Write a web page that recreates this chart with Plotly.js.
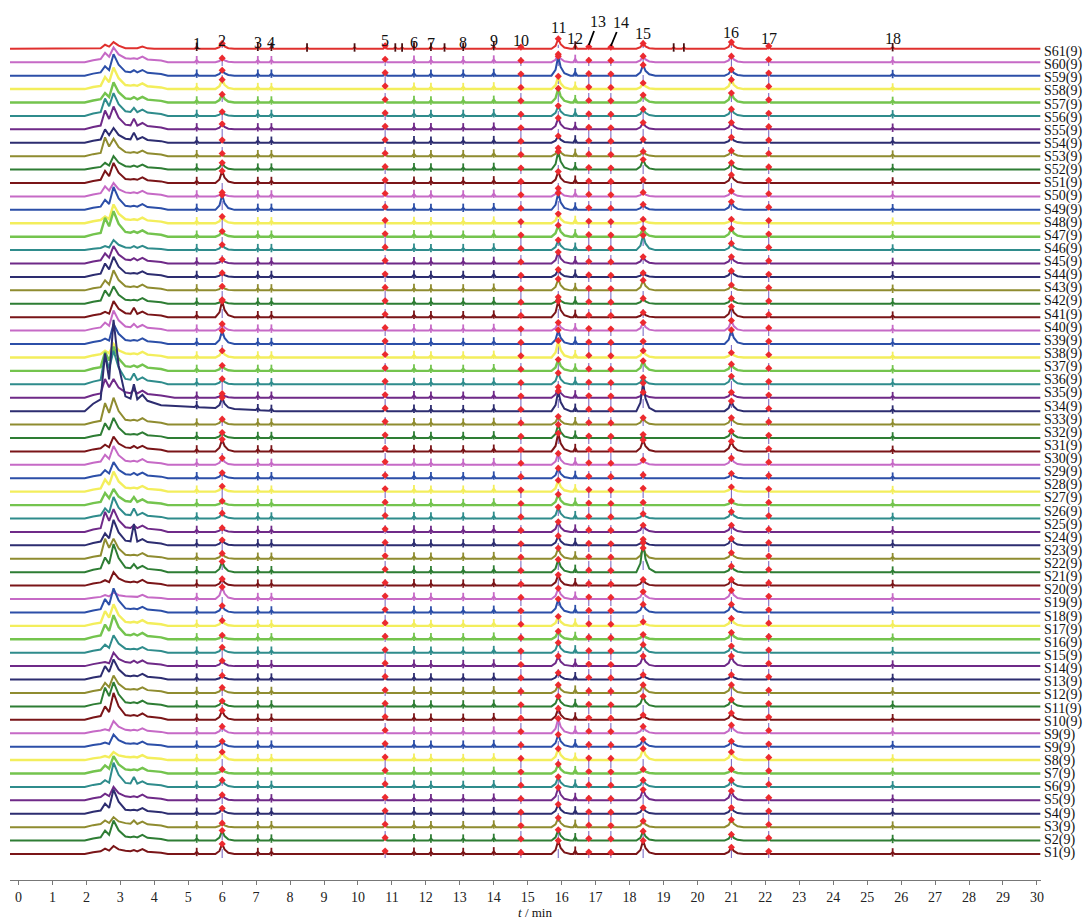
<!DOCTYPE html>
<html><head><meta charset="utf-8">
<script src="https://cdn.plot.ly/plotly-3.0.1.min.js"></script>
<style>html,body{margin:0;padding:0;background:#fff}#chart{width:1087px;height:920px}</style>
</head><body><div id="chart"></div>
<script>
// ---------- DATA ----------
const SAMPLE_LABELS = ["S61(9)","S60(9)","S59(9)","S58(9)","S57(9)","S56(9)","S55(9)","S54(9)","S53(9)","S52(9)",
"S51(9)","S50(9)","S49(9)","S48(9)","S47(9)","S46(9)","S45(9)","S44(9)","S43(9)","S42(9)",
"S41(9)","S40(9)","S39(9)","S38(9)","S37(9)","S36(9)","S35(9)","S34(9)","S33(9)","S32(9)",
"S31(9)","S30(9)","S29(9)","S28(9)","S27(9)","S26(9)","S25(9)","S24(9)","S23(9)","S22(9)",
"S21(9)","S20(9)","S19(9)","S18(9)","S17(9)","S16(9)","S15(9)","S14(9)","S13(9)","S12(9)",
"S11(9)","S10(9)","S9(9)","S9(9)","S8(9)","S7(9)","S6(9)","S5(9)","S4(9)","S3(9)","S2(9)","S1(9)"];

const PEAK_NUMBERS = ["1","2","3","4","5","6","7","8","9","10","11","12","13","14","15","16","17","18"];
const PEAK_TIMES   = [5.25, 6.0, 7.05, 7.45, 10.8, 11.65, 12.15, 13.1, 14.0, 14.8, 15.9, 16.4, 16.8, 17.45, 18.4, 21.0, 22.1, 25.75];
const RED_MARKED   = ["2","5","10","11","13","14","15","16","17"];
const SMALL_PEAK_H = [0.15, 0, 0.15, 0.15, 0.22, 0.18, 0.15, 0.15, 0.2, 0.12, 0, 0.25, 0.15, 0.12, 0, 0, 0.2, 0.12];

// early cluster retention times (min)
const T_A = 2.55, T_B = 2.8, T_C = 3.4;

// per-chromatogram values, index 0 = bottom trace ... 60 = top (reference) trace
const hA = [0.4,0.75,0.5,0.75,0.5,0.5,0.6,0.3,0.3,0.3, 1.0,1.4,0.75,1.0,0.3,0.6,1.1,1.1,1.0,0.3,
            0.4,1.1,1.5,0.9,1.5,0.75,0.9,0.9,0.6,0.75, 0.5,1.1,1.6,4.3,1.4,2.2,1.4,0.5,0.4,0.6,
            0.4,1.0,0.75,1.0,0.75,0.3,1.4,0.5,0.75,0.75, 0.9,0.5,1.4,1.0,1.4,1.3,0.7,0.9,0.7,0.7, 0.3];
const hB = [0.6,1.5,0.75,1.8,1.0,1.8,1.3,0.6,0.9,0.9, 2.0,1.8,1.3,1.5,1.0,1.3,1.8,1.6,1.8,0.5,
            1.0,2.1,1.5,1.9,1.7,1.6,1.2,1.5,1.2,1.4, 1.1,1.5,2.0,6.8,1.4,2.5,1.8,1.0,1.5,1.5,
            1.2,1.3,1.5,1.5,1.3,0.75,1.9,1.4,1.7,1.0, 1.5,1.0,1.3,1.1,1.7,1.7,1.5,1.6,1.6,1.1, 0.5];
const hC = [0.3,0.3,0.5,0.3,0.3,0.75,0.3,0.2,0.2,0.2, 0.3,0.3,0.3,0.3,0.4,0.3,0.4,0.3,0.3,0.2,
            0.3,0.6,0.3,1.6,0.5,0.75,0.6,0.3,0.4,0.3, 0.4,0.3,0.3,2.0,0.6,0.8,0.4,0.3,0.3,0.5,
            0.7,0.3,0.3,0.3,0.4,0.3,0.4,0.3,0.3,0.3, 0.3,0.3,0.3,0.75,0.8,0.6,0.4,0.3,0.4,0.3, 0.0];
const hump = [0.25,0.3,0.3,0.3,0.3,0.3,0.3,0.25,0.25,0.25, 0.35,0.3,0.3,0.3,0.3,0.3,0.35,0.3,0.3,0.2,
              0.3,0.35,0.3,0.35,0.35,0.3,0.3,0.3,0.3,0.3, 0.3,0.3,0.35,1.1,0.4,0.4,0.35,0.3,0.3,0.3,
              0.3,0.3,0.3,0.3,0.3,0.2,0.35,0.3,0.3,0.3, 0.3,0.25,0.3,0.3,0.35,0.35,0.3,0.3,0.3,0.3, 0.05];
const humpEnd = [4.4,4.4,4.4,4.4,4.4,4.4,4.4,4.4,4.4,4.4, 4.4,4.4,4.4,4.4,4.4,4.4,4.4,4.4,4.4,4.4,
                 4.4,4.4,4.4,4.4,4.4,4.4,4.4,4.4,4.4,4.4, 4.4,4.4,4.4,7.6,4.6,4.4,4.4,4.4,4.4,4.4,
                 4.4,4.4,4.4,4.4,4.4,4.4,4.4,4.4,4.4,4.4, 4.4,4.4,4.4,4.4,4.4,4.4,4.4,4.4,4.4,4.4, 4.0];
const h2  = [0.75,0.75,0.3,0.4,0.4,0.5,0.3,0.6,0.4,0.5, 0.7,0.4,0.4,0.3,0.4,0.4,0.3,0.4,0.5,0.9,
             0.5,0.8,0.4,0.4,0.3,0.4,0.3,0.4,0.4,0.5, 0.9,0.4,0.4,0.8,0.3,0.4,0.4,0.5,1.0,0.5,
             1.2,0.3,0.3,0.3,0.3,0.4,0.4,0.5,1.1,0.3, 0.9,0.5,0.2,0.2,0.4,0.3,0.6,0.7,0.4,0.3, 0.4];
const h11 = [1.0,0.8,0.7,0.7,0.95,0.75,0.7,0.85,0.9,1.1, 0.85,0.75,0.6,0.5,0.75,0.75,0.6,0.7,1.0,0.8,
             0.8,0.95,0.8,0.7,0.75,0.85,0.8,0.85,0.75,0.85, 1.35,1.0,0.6,1.5,0.8,0.85,0.85,1.25,1.05,0.6,
             1.2,0.5,0.85,0.55,0.85,0.75,0.85,0.7,1.25,0.6, 0.85,1.35,0.6,0.5,0.85,0.75,1.05,0.95,1.45,0.6, 0.75];
const h15 = [1.0,0.7,0.45,0.45,0.8,0.5,0.3,0.85,0.55,0.5, 0.35,0.75,0.6,0.35,0.75,0.6,0.35,0.3,0.6,0.55,
             0.45,2.2,0.8,0.45,0.5,0.35,0.2,0.25,0.25,0.35, 0.85,0.25,0.5,2.1,0.4,0.5,0.75,0.5,0.2,0.6,
             0.35,0.4,0.75,0.3,0.5,1.1,0.6,0.3,0.4,0.3, 0.25,0.75,0.35,0.25,0.5,0.5,0.55,0.45,0.8,0.45, 0.4];
const h16 = [0.5,0.45,0.55,0.45,0.7,0.5,0.3,0.6,0.4,0.6, 0.5,0.5,0.6,0.35,0.75,0.5,0.5,0.55,0.6,0.65,
             0.45,0.45,0.45,0.5,0.5,0.5,0.3,0.35,0.35,0.5, 0.75,0.5,0.5,0.75,0.4,0.6,0.5,0.35,1.05,0.75,
             0.8,0.4,0.4,0.45,0.5,0.5,0.6,0.3,0.6,0.4, 0.6,0.5,0.4,0.4,0.5,0.5,0.7,0.7,0.45,0.45, 0.5];

const TOP_EXTRA_TICKS = [8.5, 9.9, 11.1, 11.3, 12.55, 19.3, 19.6];

const TRACE_COLORS = ["#7a1518","#2e7d34","#8f8c30","#2d2d70","#6f2a88","#2f8c8c","#74c44e","#f3ee5c","#2c4fa8","#c66ac6"];
const TOP_COLOR = "#e0302e";

// ---------- BUILD ----------
const N = hA.length;
const WIDE = {dt:[-0.2,-0.08,0,0.07,0.18,0.36], f:[0,0.3,1,0.45,0.12,0]};
const NARROW = {dt:[-0.06,0,0.06], f:[0,1,0]};

function peakComp(t, h, prof){ return prof.dt.map((d,k)=>[t+d, h*prof.f[k]]); }
function interp(comp, x){
  if (x <= comp[0][0] || x >= comp[comp.length-1][0]) return 0;
  for (let k=0;k<comp.length-1;k++){
    const a=comp[k], b=comp[k+1];
    if (x>=a[0] && x<=b[0]) return b[0]===a[0]?Math.max(a[1],b[1]):a[1]+(b[1]-a[1])*(x-a[0])/(b[0]-a[0]);
  }
  return 0;
}
function peakHeight(i, num){
  if (num==="2") return h2[i];
  if (num==="11") return h11[i];
  if (num==="15") return h15[i];
  if (num==="16") return h16[i];
  return SMALL_PEAK_H[PEAK_NUMBERS.indexOf(num)];
}

const traces = [];
const redX=[], redY=[], minX=[], minY=[], minC=[];
for (let i=N-1;i>=0;i--){
  const hu = hump[i], a = hA[i], b = hB[i], c = hC[i];
  const early = [[1.95,0],[2.2,hu*0.5],[2.42,hu*0.8],[T_A,a],[2.67,0.5*Math.min(a,b)+0.2*hu],[T_B,b],
                 [2.95,0.45*b+0.3*hu],[3.15,hu],[3.3,hu*0.85],[T_C,Math.max(c,hu)],[3.5,hu*0.8],[3.65,hu+0.12],
                 [3.8,hu*0.7],[4.2,hu*0.4],[humpEnd[i],0]];
  const comps=[early];
  PEAK_NUMBERS.forEach((num,k)=>{
    const h = peakHeight(i,num);
    comps.push(peakComp(PEAK_TIMES[k], h, h>=0.3?WIDE:NARROW));
  });
  if (i===N-1) TOP_EXTRA_TICKS.forEach(t=>comps.push(peakComp(t,0.1,NARROW)));
  const xsSet = new Set([-0.25,30.1]);
  comps.forEach(cm=>cm.forEach(p=>xsSet.add(+p[0].toFixed(4))));
  const xs = Array.from(xsSet).sort((u,v)=>u-v);
  const total = x=>comps.reduce((s,cm)=>s+interp(cm,x),0);
  const ys = xs.map(x=>i+total(x));
  const color = i===N-1?TOP_COLOR:TRACE_COLORS[i%10];
  const w = (i%10===6||i%10===7)?2.4:2;
  traces.push({x:xs,y:ys,type:'scatter',mode:'lines',line:{color:color,width:w},hoverinfo:'skip',showlegend:false});
  PEAK_NUMBERS.forEach((num,k)=>{
    const t=PEAK_TIMES[k];
    if (RED_MARKED.includes(num)){ redX.push(t); redY.push(i+total(t)); }
    else { minX.push(t); minY.push(i+total(t)); minC.push(i===N-1?'#4a1010':color); }
  });
  if (i===N-1) TOP_EXTRA_TICKS.forEach(t=>{minX.push(t);minY.push(i+total(t));minC.push('#4a1010');});
}
traces.push({x:minX,y:minY,type:'scatter',mode:'markers',
  marker:{symbol:'line-ns-open',size:6,color:minC,line:{width:1.8,color:minC}},hoverinfo:'skip',showlegend:false});
traces.push({x:redX,y:redY,type:'scatter',mode:'markers',marker:{symbol:'diamond',size:5.5,color:'#ec2a2f'},hoverinfo:'skip',showlegend:false});

// ---------- LAYOUT ----------
const PLOT_TOP=10, PLOT_BOT=880, BASE0=854, STEP=13.42;
const pixToY = p => (BASE0-p)/STEP;

const shapes = RED_MARKED.map(num=>({type:'line',xref:'x',yref:'y',x0:PEAK_TIMES[PEAK_NUMBERS.indexOf(num)],x1:PEAK_TIMES[PEAK_NUMBERS.indexOf(num)],
  y0:-0.3,y1:N-0.7,line:{color:'#6f5fc0',width:1,dash:'dash'},layer:'below'}));

const LABEL_PIX_Y = [43,40,42,42,40,42,43,42,40,40,27,38,45,46,33,32,38,38];
const annotations = [];
PEAK_NUMBERS.forEach((num,k)=>{
  const ann = {x:PEAK_TIMES[k],y:pixToY(LABEL_PIX_Y[k]),xref:'x',yref:'y',text:num,showarrow:false,
    font:{family:'Liberation Serif, Times New Roman, serif',size:16,color:'#111'}};
  if (num==="13"||num==="14"){
    ann.showarrow=true; ann.arrowhead=0; ann.arrowwidth=1.8; ann.arrowcolor='#000';
    ann.ax = num==="13"?9:10; ann.ay=-24; ann.standoff=0;
  }
  annotations.push(ann);
});
SAMPLE_LABELS.forEach((lab,k)=>{
  annotations.push({x:1,xref:'paper',xanchor:'left',xshift:1,y:pixToY(52+k*13.13),yref:'y',yanchor:'middle',text:lab,showarrow:false,
    font:{family:'Liberation Serif, Times New Roman, serif',size:14,color:'#111'}});
});
annotations.push({x:(535-10)/1031,xref:'paper',xanchor:'center',y:(PLOT_BOT-912)/(PLOT_BOT-PLOT_TOP),yref:'paper',yanchor:'middle',
  text:'<i>t</i> / min',showarrow:false,
  font:{family:'Liberation Serif, Times New Roman, serif',size:13,color:'#111'}});

const layout = {
  width:1087,height:920,
  margin:{l:10,r:46,t:PLOT_TOP,b:920-PLOT_BOT,pad:0},
  paper_bgcolor:'#fff',plot_bgcolor:'#fff',
  showlegend:false,
  xaxis:{range:[-0.25,30.12],tickmode:'linear',tick0:0,dtick:1,showgrid:false,zeroline:false,
    showline:true,linecolor:'#777',linewidth:1,ticks:'outside',ticklen:4,tickcolor:'#777',
    tickfont:{family:'Liberation Serif, Times New Roman, serif',size:14,color:'#222'}},
  yaxis:{range:[pixToY(PLOT_BOT),pixToY(PLOT_TOP)],visible:false,showgrid:false,zeroline:false},
  shapes:shapes,annotations:annotations
};
Plotly.newPlot('chart',traces,layout,{staticPlot:true,displayModeBar:false});
</script></body></html>
